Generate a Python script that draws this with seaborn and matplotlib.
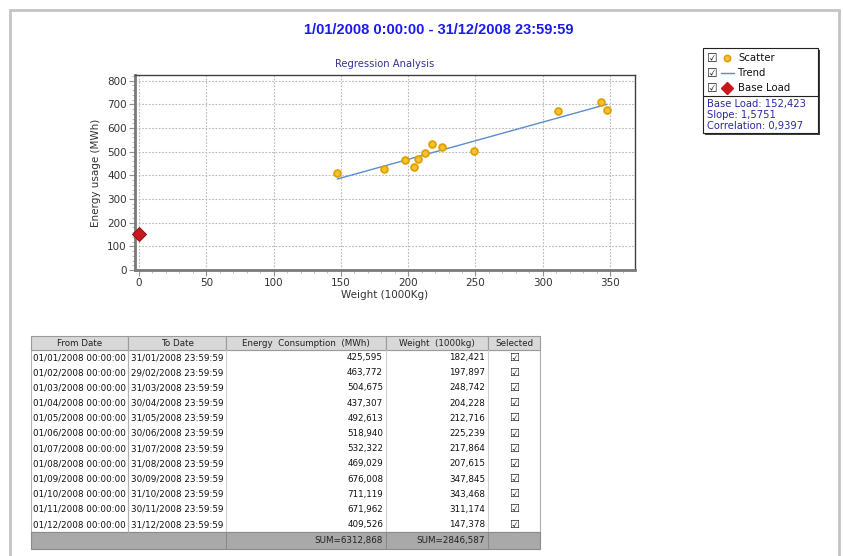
import matplotlib
matplotlib.use("Agg")
import matplotlib.pyplot as plt
from matplotlib.patches import Rectangle
from matplotlib.lines import Line2D
from matplotlib.ticker import MultipleLocator
import seaborn as sns
import pandas as pd

# ---------------- data ----------------
from_dates = ["01/01/2008 00:00:00", "01/02/2008 00:00:00", "01/03/2008 00:00:00",
              "01/04/2008 00:00:00", "01/05/2008 00:00:00", "01/06/2008 00:00:00",
              "01/07/2008 00:00:00", "01/08/2008 00:00:00", "01/09/2008 00:00:00",
              "01/10/2008 00:00:00", "01/11/2008 00:00:00", "01/12/2008 00:00:00"]
to_dates = ["31/01/2008 23:59:59", "29/02/2008 23:59:59", "31/03/2008 23:59:59",
            "30/04/2008 23:59:59", "31/05/2008 23:59:59", "30/06/2008 23:59:59",
            "31/07/2008 23:59:59", "31/08/2008 23:59:59", "30/09/2008 23:59:59",
            "31/10/2008 23:59:59", "30/11/2008 23:59:59", "31/12/2008 23:59:59"]
energy = [425.595, 463.772, 504.675, 437.307, 492.613, 518.940,
          532.322, 469.029, 676.008, 711.119, 671.962, 409.526]
weight = [182.421, 197.897, 248.742, 204.228, 212.716, 225.239,
          217.864, 207.615, 347.845, 343.468, 311.174, 147.378]
base_load = 152.423
slope = 1.5751
correlation = 0.9397
energy_sum = "SUM=6312,868"
weight_sum = "SUM=2846,587"
title_text = "1/01/2008 0:00:00 - 31/12/2008 23:59:59"
chart_title = "Regression Analysis"
x_label = "Weight (1000Kg)"
y_label = "Energy usage (MWh)"
x_ticks = [0, 50, 100, 150, 200, 250, 300, 350]
y_ticks = [0, 100, 200, 300, 400, 500, 600, 700, 800]
table_headers = ["From Date", "To Date", "Energy  Consumption  (MWh)", "Weight  (1000kg)", "Selected"]

df = pd.DataFrame({"weight": weight, "energy": energy})

W, H = 843, 556
sns.set_theme(style="white")
plt.rcParams["font.family"] = ["DejaVu Sans"]
fig = plt.figure(figsize=(W / 100, H / 100), dpi=100)
fig.patch.set_facecolor("white")


def fx(x):
    return x / W


def fy(y):
    return 1 - y / H


def fmt(v):
    return f"{v:,.3f}".replace(",", " ").replace(".", ",").replace(" ", ".")


# outer frame
fr = dict(color="#c4c4c4", lw=2, transform=fig.transFigure)
fig.add_artist(Line2D([fx(10), fx(10)], [fy(10), fy(556)], **fr))
fig.add_artist(Line2D([fx(10), fx(839)], [fy(10), fy(10)], **fr))
fig.add_artist(Line2D([fx(839), fx(839)], [fy(10), fy(556)], **fr))

fig.text(fx(439), fy(30), title_text, ha="center", va="center", color="#1a1aee",
         fontsize=10.5, fontweight="bold",
         family=["Liberation Sans Narrow", "Liberation Sans", "DejaVu Sans"])

# ---------------- chart ----------------
ax = fig.add_axes([fx(135), fy(270), (635 - 135) / W, (270 - 75) / H])
sns.scatterplot(data=df, x="weight", y="energy", ax=ax, s=24, color="#f2c230",
                edgecolor="#e0a000", linewidth=1.3, zorder=4)
tx = [min(weight), max(weight)]
ty = [base_load + slope * v for v in tx]
sns.lineplot(x=tx, y=ty, ax=ax, color="#5b8ccc", lw=1, zorder=3)
ax.scatter([0], [base_load], marker="D", s=50, color="#c8181e", edgecolor="#a01010",
           linewidth=0.8, zorder=5, clip_on=False)
ax.set_xlim(-3, 368.6)
ax.set_ylim(0, 824)
ax.set_xticks(x_ticks)
ax.set_yticks(y_ticks)
ax.xaxis.set_minor_locator(MultipleLocator(10))
ax.yaxis.set_minor_locator(MultipleLocator(20))
ax.grid(True, which="major", color="#b8b8b8", linestyle=(0, (1.5, 1.5)), lw=0.8)
ax.tick_params(which="major", direction="out", length=4, width=0.8, colors="#909090",
               labelcolor="#333333", labelsize=7.5, pad=2, bottom=True, left=True)
ax.tick_params(which="minor", direction="out", length=2, width=0.6, colors="#b0b0b0",
               bottom=True, left=True)
for s in ["left", "bottom"]:
    ax.spines[s].set_color("#7a7a7a")
    ax.spines[s].set_linewidth(2)
for s in ["top", "right"]:
    ax.spines[s].set_color("#404040")
    ax.spines[s].set_linewidth(1)
ax.set_xlabel(x_label, fontsize=7.5, color="#333333", labelpad=1)
ax.set_ylabel(y_label, fontsize=7.5, color="#333333", labelpad=4)
ax.set_title(chart_title, fontsize=7.2, color="#333399", pad=6)

# ---------------- legend ----------------
lx0, lx1, ly0, ly1 = 703, 818, 48, 133
fig.add_artist(Rectangle((fx(lx0 + 2), fy(ly1 + 2)), (lx1 - lx0) / W, (ly1 - ly0) / H,
                         transform=fig.transFigure, facecolor="#404040", edgecolor="none"))
fig.add_artist(Rectangle((fx(lx0), fy(ly1)), (lx1 - lx0) / W, (ly1 - ly0) / H,
                         transform=fig.transFigure, facecolor="white", edgecolor="#202020", lw=0.8))
fig.add_artist(Line2D([fx(lx0), fx(lx1)], [fy(96), fy(96)], color="#202020", lw=0.8,
                      transform=fig.transFigure))
leg_labels = ["Scatter", "Trend", "Base Load"]
for i, lab in enumerate(leg_labels):
    yy = 58 + 15 * i
    fig.text(fx(712), fy(yy), "\u2611", ha="center", va="center", fontsize=8.5, color="#202020")
    if i == 0:
        fig.add_artist(Line2D([fx(727)], [fy(yy)], marker="o", ms=4.5, mfc="#f2c230", mec="#e0a000",
                              mew=1.2, transform=fig.transFigure))
    elif i == 1:
        fig.add_artist(Line2D([fx(721), fx(734)], [fy(yy), fy(yy)], color="#5b8ccc", lw=1,
                              transform=fig.transFigure))
    else:
        fig.add_artist(Line2D([fx(727)], [fy(yy)], marker="D", ms=6, mfc="#c8181e", mec="#c8181e",
                              transform=fig.transFigure))
    fig.text(fx(738), fy(yy), lab, ha="left", va="center", fontsize=7.3, color="#111111")
stats = [f"Base Load: {base_load:.3f}".replace(".", ","),
         f"Slope: {slope:.4f}".replace(".", ","),
         f"Correlation: {correlation:.4f}".replace(".", ",")]
for i, t in enumerate(stats):
    fig.text(fx(707), fy(104 + 11 * i), t, ha="left", va="center", fontsize=7.2, color="#2a2aa8")

# ---------------- table ----------------
cols = [31, 128, 226, 386, 488, 540]
hy0, hy1 = 336, 350
rh = 15.18
rows_end = hy1 + rh * len(energy)
sy1 = 549
tf = fig.transFigure


def rect(x0, y0, x1, y1, fc, ec, lw=0.8):
    fig.add_artist(Rectangle((fx(x0), fy(y1)), (x1 - x0) / W, (y1 - y0) / H, transform=tf,
                             facecolor=fc, edgecolor=ec, lw=lw))


def vline(x, y0, y1, c="#c8c8c8", lw=0.8):
    fig.add_artist(Line2D([fx(x), fx(x)], [fy(y0), fy(y1)], color=c, lw=lw, transform=tf))


# body
rect(cols[0], hy1, cols[-1], rows_end, "white", "#b0b0b0")
for c in cols[1:-1]:
    vline(c, hy1, rows_end, "#d0d0d0")
vline(cols[1], hy1, rows_end, "#b0b0b0")
# header
for i in range(5):
    rect(cols[i], hy0, cols[i + 1], hy1, "#d8d8d8", "#9a9a9a")
    fig.text(fx((cols[i] + cols[i + 1]) / 2), fy((hy0 + hy1) / 2 + 0.5), table_headers[i],
             ha="center", va="center", fontsize=6.3, color="#222222")
# sum row
rect(cols[0], rows_end, cols[-1], sy1, "#a9a9a9", "#8a8a8a")
for c in [cols[2], cols[3], cols[4]]:
    vline(c, rows_end, sy1, "#8a8a8a")
sy = (rows_end + sy1) / 2
fig.text(fx(cols[3] - 3), fy(sy), energy_sum, ha="right", va="center", fontsize=6.3, color="#222222")
fig.text(fx(cols[4] - 3), fy(sy), weight_sum, ha="right", va="center", fontsize=6.3, color="#222222")
# rows
for r in range(len(energy)):
    yc = hy1 + rh * r + rh / 2
    fig.text(fx(cols[0] + 2), fy(yc), from_dates[r], ha="left", va="center", fontsize=6.3, color="#111111")
    fig.text(fx(cols[1] + 3), fy(yc), to_dates[r], ha="left", va="center", fontsize=6.3, color="#111111")
    fig.text(fx(cols[3] - 3), fy(yc), fmt(energy[r]), ha="right", va="center", fontsize=6.3, color="#111111")
    fig.text(fx(cols[4] - 3), fy(yc), fmt(weight[r]), ha="right", va="center", fontsize=6.3, color="#111111")
    fig.text(fx(514), fy(yc), "\u2611", ha="center", va="center", fontsize=8, color="#202020")

fig.savefig("out.png", dpi=100, facecolor="white")
